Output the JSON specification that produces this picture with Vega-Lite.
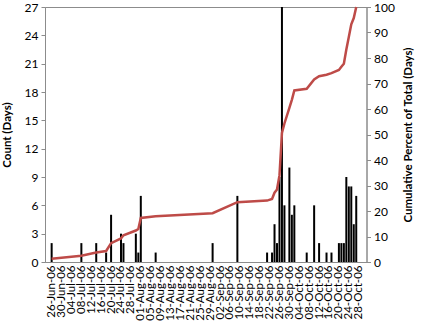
{
  "$schema": "https://vega.github.io/schema/vega-lite/v6.json",
  "width": 321.5,
  "height": 255,
  "autosize": {"type": "none"},
  "padding": {"left": 45, "top": 7, "right": 59.5, "bottom": 60},
  "config": {
    "view": {"stroke": "#8c8c8c", "strokeWidth": 1},
    "font": "Lato",
    "axis": {
      "domainColor": "#8c8c8c",
      "tickColor": "#8c8c8c",
      "labelColor": "#000000",
      "titleColor": "#000000",
      "grid": false,
      "labelFont": "Lato",
      "titleFont": "Lato"
    },
    "axisX": {"labelOverlap": false, "labelFlush": false, "labelBound": false}
  },
  "data": {
    "values": [
      {"date": "2006-06-26T00:00:00", "count": 2, "cum": 1.23},
      {"date": "2006-07-08T00:00:00", "count": 2, "cum": 2.47},
      {"date": "2006-07-14T00:00:00", "count": 2, "cum": 3.70},
      {"date": "2006-07-18T00:00:00", "count": 1, "cum": 4.32},
      {"date": "2006-07-20T00:00:00", "count": 5, "cum": 7.41},
      {"date": "2006-07-24T00:00:00", "count": 3, "cum": 9.26},
      {"date": "2006-07-25T00:00:00", "count": 2, "cum": 10.49},
      {"date": "2006-07-30T00:00:00", "count": 3, "cum": 12.35},
      {"date": "2006-07-31T00:00:00", "count": 1, "cum": 12.96},
      {"date": "2006-08-01T00:00:00", "count": 7, "cum": 17.28},
      {"date": "2006-08-07T00:00:00", "count": 1, "cum": 17.90},
      {"date": "2006-08-30T00:00:00", "count": 2, "cum": 19.14},
      {"date": "2006-09-09T00:00:00", "count": 7, "cum": 23.46},
      {"date": "2006-09-21T00:00:00", "count": 1, "cum": 24.07},
      {"date": "2006-09-23T00:00:00", "count": 1, "cum": 24.69},
      {"date": "2006-09-24T00:00:00", "count": 4, "cum": 27.16},
      {"date": "2006-09-25T00:00:00", "count": 2, "cum": 28.40},
      {"date": "2006-09-26T00:00:00", "count": 9, "cum": 33.95},
      {"date": "2006-09-27T00:00:00", "count": 27, "cum": 50.62},
      {"date": "2006-09-28T00:00:00", "count": 6, "cum": 54.32},
      {"date": "2006-09-30T00:00:00", "count": 10, "cum": 60.49},
      {"date": "2006-10-01T00:00:00", "count": 5, "cum": 63.58},
      {"date": "2006-10-02T00:00:00", "count": 6, "cum": 67.28},
      {"date": "2006-10-07T00:00:00", "count": 1, "cum": 67.90},
      {"date": "2006-10-10T00:00:00", "count": 6, "cum": 71.60},
      {"date": "2006-10-12T00:00:00", "count": 2, "cum": 72.84},
      {"date": "2006-10-15T00:00:00", "count": 1, "cum": 73.46},
      {"date": "2006-10-17T00:00:00", "count": 1, "cum": 74.07},
      {"date": "2006-10-20T00:00:00", "count": 2, "cum": 75.31},
      {"date": "2006-10-21T00:00:00", "count": 2, "cum": 76.54},
      {"date": "2006-10-22T00:00:00", "count": 2, "cum": 77.78},
      {"date": "2006-10-23T00:00:00", "count": 9, "cum": 83.33},
      {"date": "2006-10-24T00:00:00", "count": 8, "cum": 88.27},
      {"date": "2006-10-25T00:00:00", "count": 8, "cum": 93.21},
      {"date": "2006-10-26T00:00:00", "count": 4, "cum": 95.68},
      {"date": "2006-10-27T00:00:00", "count": 7, "cum": 100}
    ]
  },
  "encoding": {
    "x": {
      "field": "date",
      "type": "temporal",
      "scale": {
        "domain": [
          {"year": 2006, "month": 6, "date": 25, "hours": 8},
          {"year": 2006, "month": 10, "date": 29, "hours": 3}
        ]
      },
      "axis": {
        "title": null,
        "format": "%d-%b-%y",
        "labelAngle": 270,
        "labelFontSize": 11.5,
        "labelPadding": 3,
        "ticks": false,
        "labelOverlap": false,
        "labelFlush": false,
        "labelBound": false,
        "labelSeparation": 0,
        "values": [
          {"year": 2006, "month": 6, "date": 26},
          {"year": 2006, "month": 6, "date": 30},
          {"year": 2006, "month": 7, "date": 4},
          {"year": 2006, "month": 7, "date": 8},
          {"year": 2006, "month": 7, "date": 12},
          {"year": 2006, "month": 7, "date": 16},
          {"year": 2006, "month": 7, "date": 20},
          {"year": 2006, "month": 7, "date": 24},
          {"year": 2006, "month": 7, "date": 28},
          {"year": 2006, "month": 8, "date": 1},
          {"year": 2006, "month": 8, "date": 5},
          {"year": 2006, "month": 8, "date": 9},
          {"year": 2006, "month": 8, "date": 13},
          {"year": 2006, "month": 8, "date": 17},
          {"year": 2006, "month": 8, "date": 21},
          {"year": 2006, "month": 8, "date": 25},
          {"year": 2006, "month": 8, "date": 29},
          {"year": 2006, "month": 9, "date": 2},
          {"year": 2006, "month": 9, "date": 6},
          {"year": 2006, "month": 9, "date": 10},
          {"year": 2006, "month": 9, "date": 14},
          {"year": 2006, "month": 9, "date": 18},
          {"year": 2006, "month": 9, "date": 22},
          {"year": 2006, "month": 9, "date": 26},
          {"year": 2006, "month": 9, "date": 30},
          {"year": 2006, "month": 10, "date": 4},
          {"year": 2006, "month": 10, "date": 8},
          {"year": 2006, "month": 10, "date": 12},
          {"year": 2006, "month": 10, "date": 16},
          {"year": 2006, "month": 10, "date": 20},
          {"year": 2006, "month": 10, "date": 24},
          {"year": 2006, "month": 10, "date": 28}
        ]
      }
    }
  },
  "layer": [
    {
      "mark": {"type": "bar", "width": 2, "color": "#000000"},
      "encoding": {
        "y": {
          "field": "count",
          "type": "quantitative",
          "scale": {"domain": [0, 27], "nice": false},
          "axis": {
            "values": [0, 3, 6, 9, 12, 15, 18, 21, 24, 27],
            "title": "Count (Days)",
            "titleFontSize": 11.5,
            "titleFontWeight": "bold",
            "titleAngle": 270,
            "titleX": -33,
            "labelFontSize": 12,
            "tickSize": 4,
            "labelPadding": 3
          }
        }
      }
    },
    {
      "mark": {"type": "line", "color": "#BE4B48", "strokeWidth": 2.5},
      "encoding": {
        "y": {
          "field": "cum",
          "type": "quantitative",
          "scale": {"domain": [0, 100], "nice": false},
          "axis": {
            "orient": "right",
            "values": [0, 10, 20, 30, 40, 50, 60, 70, 80, 90, 100],
            "title": "Cumulative Percent of Total (Days)",
            "titleFontSize": 11.5,
            "titleFontWeight": "bold",
            "titleAngle": 270,
            "titleX": 47,
            "labelFontSize": 12,
            "tickSize": 4,
            "labelPadding": 3
          }
        }
      }
    }
  ],
  "resolve": {"scale": {"y": "independent"}}
}
